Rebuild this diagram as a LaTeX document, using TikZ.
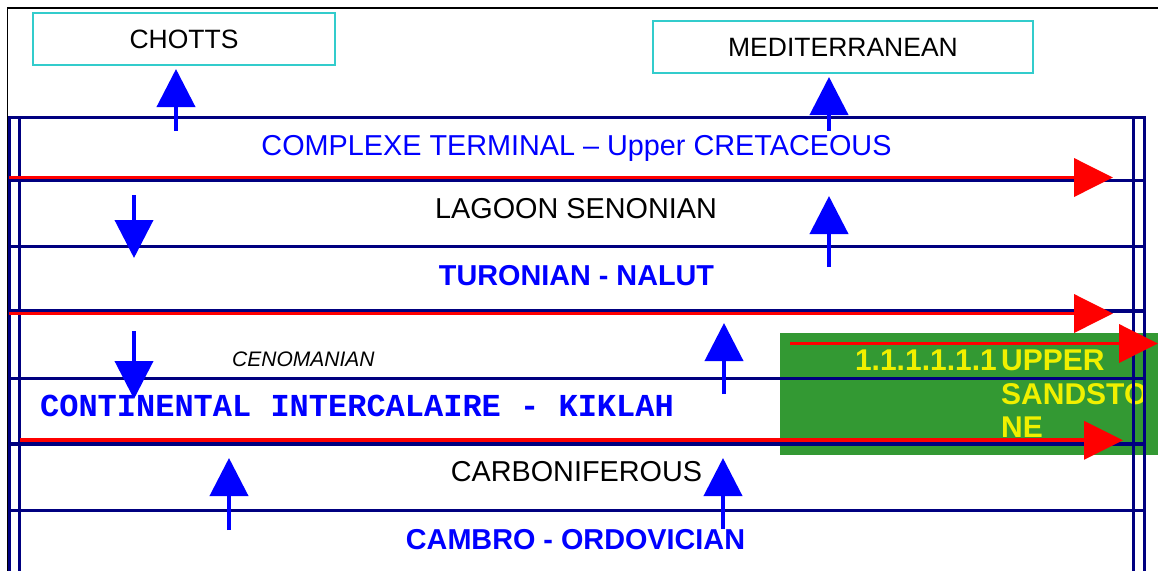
\documentclass[tikz,border=0pt]{standalone}
\usepackage{fontspec}
\setmainfont{Liberation Sans}
\setmonofont{Liberation Mono}
\usetikzlibrary{arrows.meta}
\definecolor{navy}{RGB}{0,0,128}
\definecolor{tblue}{RGB}{0,0,255}
\definecolor{boxcyan}{RGB}{51,204,204}
\definecolor{sgreen}{RGB}{51,153,51}
\definecolor{syellow}{RGB}{240,240,0}
\definecolor{ared}{RGB}{255,0,0}
\begin{document}
\begin{tikzpicture}[x=1pt,y=-1pt,
  layer/.style={line width=3.2pt, draw=navy},
  flow/.style={line width=3.8pt, draw=ared, -{Triangle[length=39pt,width=38pt]}},
  vert/.style={line width=4pt, draw=tblue, -{Triangle[length=38pt,width=38pt]}},
  topbox/.style={draw=boxcyan, line width=1.5pt, inner sep=0pt, font=\fontsize{26.5}{30}\selectfont},
  lbl/.style={inner sep=0pt, anchor=base, font=\fontsize{28.8}{34}\selectfont},
  blbl/.style={lbl, text=tblue, font=\fontsize{28.8}{34}\selectfont\bfseries},
  sand/.style={inner sep=0pt, anchor=base west, text=syellow, font=\fontsize{30}{34}\selectfont\bfseries}]
\useasboundingbox (0,0) rectangle (1158,570);
% outer frame
\draw[line width=1.5pt, black] (7.5,575) -- (7.5,8) -- (1160,8);
% top boxes
\node[topbox, minimum width=302pt, minimum height=52pt] (chotts) at (184,39) {CHOTTS};
\node[topbox, minimum width=380pt, minimum height=52pt] (med) at (843,47) {MEDITERRANEAN};
% green sandstone box
\node[fill=sgreen, inner sep=0pt, minimum width=380pt, minimum height=122pt, anchor=north west] (sandbox) at (780,332.3) {};
\node[sand, anchor=base east] (num) at (997,370.7) {1.1.1.1.1.1};
\node[sand] (upper) at (1001,370.7) {UPPER};
\node[sand] (sandsto) at (1001,404) {SANDSTO};
\node[sand] (ne) at (1001,437.3) {NE};
% navy frame and layer lines
\draw[layer] (9.5,575) -- (9.5,117.3) -- (1144.3,117.3) -- (1144.3,575);
\draw[layer] (19.8,117.3) -- (19.8,575);
\draw[layer] (1133.3,117.3) -- (1133.3,575);
\foreach \yy in {180.5,246.7,311,378.7,444,510.7}
  \draw[layer] (9.5,\yy) -- (1144.3,\yy);
% red flow arrows
\draw[flow] (9,177.5) -- (1113,177.5);
\draw[flow] (9,313.5) -- (1113,313.5);
\draw[flow] (19.8,440.3) -- (1123,440.3);
\draw[flow] (790,343.5) -- (1158,343.5);
% blue vertical arrows
\draw[vert] (176,131) -- (176,69);
\draw[vert] (829,131) -- (829,77);
\draw[vert] (134,195) -- (134,258);
\draw[vert] (829,267) -- (829,196);
\draw[vert] (134,331) -- (134,399);
\draw[vert] (724,394) -- (724,323);
\draw[vert] (229,530) -- (229,458);
\draw[vert] (723,529) -- (723,458);
% layer labels
\node[lbl, text=tblue] (complexe) at (576.5,155.7) {COMPLEXE TERMINAL – Upper CRETACEOUS};
\node[lbl] (lagoon) at (576,218.3) {LAGOON SENONIAN};
\node[blbl] (turonian) at (576.5,285) {TURONIAN - NALUT};
\node[inner sep=0pt, anchor=base west, font=\fontsize{21}{24}\selectfont\itshape] (cenoman) at (232,366.7) {CENOMANIAN};
\node[inner sep=0pt, anchor=base, text=tblue, font=\fontsize{32}{34}\selectfont\ttfamily\bfseries] (ci) at (357,416) {CONTINENTAL INTERCALAIRE - KIKLAH};
\node[lbl] (carbon) at (576.4,481.7) {CARBONIFEROUS};
\node[blbl] (cambro) at (575.5,549.3) {CAMBRO - ORDOVICIAN};
\end{tikzpicture}
\end{document}
